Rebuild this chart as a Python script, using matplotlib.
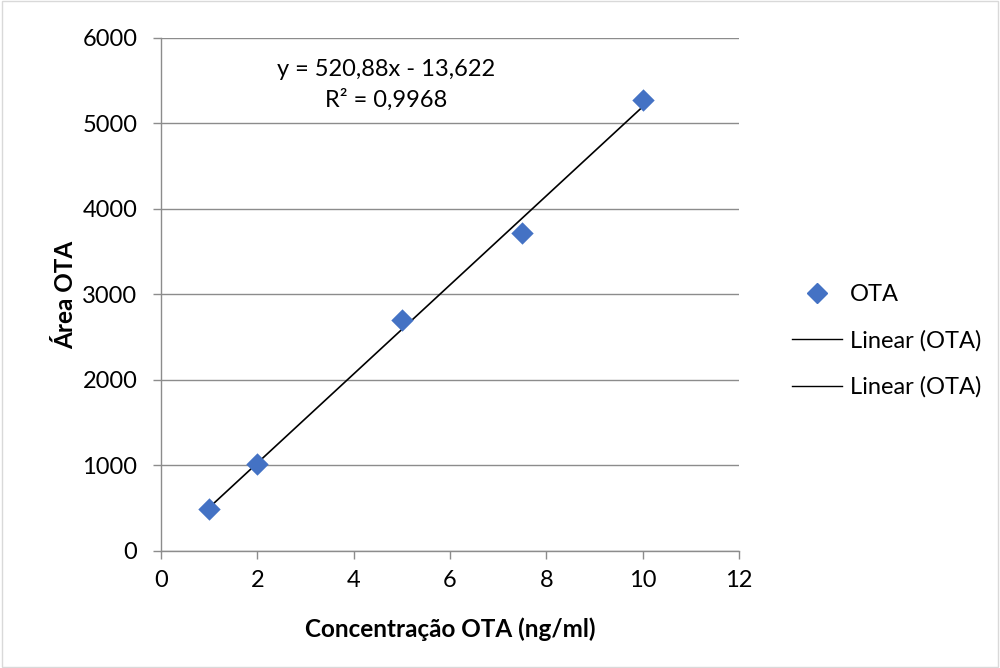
import matplotlib
matplotlib.use("Agg")
import matplotlib.pyplot as plt
import numpy as np
from matplotlib.lines import Line2D
from matplotlib.patches import Rectangle

plt.rcParams['font.family'] = ['Lato', 'DejaVu Sans']

conc = [1, 2, 5, 7.5, 10]
area = [495, 1017, 2702, 3719, 5275]
slope = 520.88
intercept = -13.622
eq_text = "y = 520,88x - 13,622"
r2_text = "R² = 0,9968"
xticks = [0, 2, 4, 6, 8, 10, 12]
yticks = [0, 1000, 2000, 3000, 4000, 5000, 6000]

FS = 17

fig = plt.figure(figsize=(10, 6.68), dpi=100)
fig.patches.append(Rectangle((0.002, 0.002), 0.996, 0.996, transform=fig.transFigure,
                             fill=False, edgecolor='#d9d9d9', linewidth=1))
ax = fig.add_axes([0.161, 0.1752, 0.578, 0.768])

ax.set_xlim(0, 12)
ax.set_ylim(0, 6000)
ax.set_xticks(xticks)
ax.set_yticks(yticks)
ax.grid(axis='y', color='#8c8c8c', linewidth=1)
ax.set_axisbelow(True)
for s in ['top', 'right']:
    ax.spines[s].set_visible(False)
for s in ['left', 'bottom']:
    ax.spines[s].set_color('#8c8c8c')
    ax.spines[s].set_linewidth(1)
ax.tick_params(axis='both', direction='out', length=6, color='#8c8c8c', width=1,
               labelsize=FS)
ax.tick_params(axis='y', pad=11)
ax.tick_params(axis='x', pad=8)

xs = np.array([min(conc), max(conc)])
ax.plot(xs, slope * xs + intercept, color='black', linewidth=1.2, zorder=2)
ax.scatter(conc, area, marker='D', s=130, color='#4472c4', zorder=3, linewidths=0)

ax.text((386 - 161) / 578, (551 - 70) / 513, eq_text, transform=ax.transAxes,
        ha='center', va='center', fontsize=FS)
ax.text((386 - 161) / 578, (551 - 100) / 513, r2_text, transform=ax.transAxes,
        ha='center', va='center', fontsize=FS)

ax.set_xlabel("Concentração OTA (ng/ml)", fontsize=FS + 0.5, fontweight='bold', labelpad=19)
ax.set_ylabel("Área OTA", fontsize=FS + 0.5, fontweight='bold', labelpad=4)

handles = [Line2D([], [], marker='D', linestyle='none', color='#4472c4', markersize=10),
           Line2D([], [], color='black', linewidth=1),
           Line2D([], [], color='black', linewidth=1)]
labels = ["OTA", "Linear (OTA)", "Linear (OTA)"]
leg = fig.legend(handles, labels, loc='center left', bbox_to_anchor=(0.792, 1 - 341 / 668),
                 frameon=False, fontsize=FS, handlelength=2.1, labelspacing=1.05,
                 handletextpad=0.34, borderpad=0, borderaxespad=0)

fig.savefig("out.png", dpi=100)
